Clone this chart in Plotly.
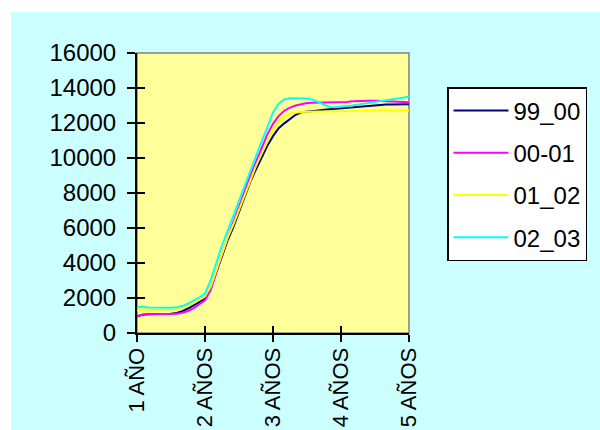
import plotly.graph_objects as go

# meses desde el primer año (0 = 1 AÑO, 48 = 5 AÑOS)
meses = list(range(49))
marcas = [0, 12, 24, 36, 48]
etiquetas = ["1 AÑO", "2 AÑOS", "3 AÑOS", "4 AÑOS", "5 AÑOS"]

s99_00 = [950, 1050, 1070, 1070, 1070, 1080, 1100, 1150, 1250, 1400, 1580, 1770,
          1950, 2550, 3450, 4400, 5300, 6050, 6900, 7800, 8650, 9350, 10050, 10700,
          11250, 11700, 11980, 12250, 12470, 12610, 12660, 12690, 12720, 12750, 12780, 12810,
          12850, 12880, 12910, 12940, 12970, 13000, 13020, 13040, 13050, 13060, 13070, 13070,
          13070]
s00_01 = [920, 1060, 1070, 1070, 1070, 1070, 1080, 1100, 1150, 1260, 1420, 1620,
          1870, 2450, 3500, 4500, 5450, 6300, 7200, 8100, 9000, 9800, 10600, 11350,
          11950, 12400, 12700, 12880, 13000, 13080, 13140, 13160, 13160, 13160, 13160, 13160,
          13170, 13200, 13240, 13260, 13270, 13270, 13270, 13260, 13250, 13230, 13210, 13190,
          13180]
s01_02 = [1300, 1390, 1330, 1330, 1330, 1330, 1340, 1380, 1460, 1580, 1720, 1900,
          2100, 2650, 3600, 4550, 5450, 6200, 7050, 7950, 8800, 9550, 10250, 10950,
          11600, 12100, 12400, 12550, 12610, 12630, 12640, 12650, 12650, 12660, 12660, 12670,
          12680, 12690, 12700, 12700, 12710, 12710, 12710, 12720, 12720, 12720, 12720, 12720,
          12720]
s02_03 = [1450, 1520, 1460, 1450, 1450, 1450, 1450, 1470, 1540, 1680, 1850, 2030,
          2250, 3000, 4000, 5000, 5850, 6700, 7600, 8500, 9350, 10150, 10950, 11750,
          12600, 13100, 13350, 13420, 13420, 13420, 13400, 13330, 13180, 13030, 12920, 12900,
          12920, 12960, 13000, 13050, 13100, 13160, 13220, 13270, 13320, 13370, 13410, 13450,
          13500]

series = [("99_00", s99_00, "#000080"),
          ("00-01", s00_01, "#FF00FF"),
          ("01_02", s01_02, "#FFFF00"),
          ("02_03", s02_03, "#00FFFF")]

W, H = 600, 430
L, R, T, B = 137, 191, 53, 97
pw, ph = W - L - R, H - T - B


def px(x):
    return (x - L) / pw


def py(y):
    return (H - B - y) / ph


fig = go.Figure()
for i, (nombre, vals, color) in enumerate(series):
    fig.add_trace(go.Scatter(x=meses, y=vals, name=nombre, mode="lines",
                             legendgroup=str(i),
                             line=dict(color=color, width=2)))

# eje duplicado para las marcas hacia dentro
fig.add_trace(go.Scatter(x=[], y=[], xaxis="x2", yaxis="y2", showlegend=False,
                         hoverinfo="skip"))

fuente = dict(family="Liberation Sans, Arial", size=24, color="black")

fig.update_layout(
    width=W, height=H,
    margin=dict(l=L, r=R, t=T, b=B),
    paper_bgcolor="#CCFFFF",
    plot_bgcolor="#FFFF99",
    font=fuente,
    showlegend=True,
    legend=dict(x=px(447), y=py(87), xanchor="left", yanchor="top",
                bgcolor="white", bordercolor="black", borderwidth=1.5,
                font=fuente, tracegroupgap=8, itemwidth=55),
    xaxis=dict(range=[0, 48], tickvals=marcas, ticktext=etiquetas, tickangle=-90,
               tickfont=dict(size=22), ticklabelstandoff=-3,
               showgrid=False, zeroline=False, showline=True, linecolor="black",
               linewidth=2, ticks="outside", ticklen=7, tickwidth=2, tickcolor="black",
               automargin=False),
    yaxis=dict(range=[0, 16000], dtick=2000, tickformat="d", showgrid=False,
               zeroline=False, showline=True, linecolor="black", linewidth=2,
               ticks="outside", ticklen=8, tickwidth=2, tickcolor="black",
               ticklabelstandoff=6, automargin=False),
    xaxis2=dict(overlaying="x", range=[0, 48], tickvals=marcas, showticklabels=False,
                showgrid=False, zeroline=False, ticks="inside", ticklen=7, tickwidth=2,
                tickcolor="black", side="bottom", anchor="y2", automargin=False),
    yaxis2=dict(overlaying="y", range=[0, 16000], dtick=2000, showticklabels=False,
                showgrid=False, zeroline=False, ticks="inside", ticklen=8, tickwidth=2,
                tickcolor="black", side="left", anchor="x2", automargin=False),
    shapes=[
        dict(type="rect", xref="x domain", yref="y domain", x0=0, x1=1, y0=0, y1=1,
             line=dict(color="#808080", width=1.5), layer="below"),
        dict(type="rect", xref="paper", yref="paper", x0=px(0), x1=px(W),
             y0=py(12), y1=py(0), fillcolor="white", line=dict(width=0), layer="below"),
        dict(type="rect", xref="paper", yref="paper", x0=px(0), x1=px(11),
             y0=py(H), y1=py(0), fillcolor="white", line=dict(width=0), layer="below"),
    ],
)

fig.write_html("out.html", config={"displayModeBar": False},
               post_script="document.body.style.margin='0';")
